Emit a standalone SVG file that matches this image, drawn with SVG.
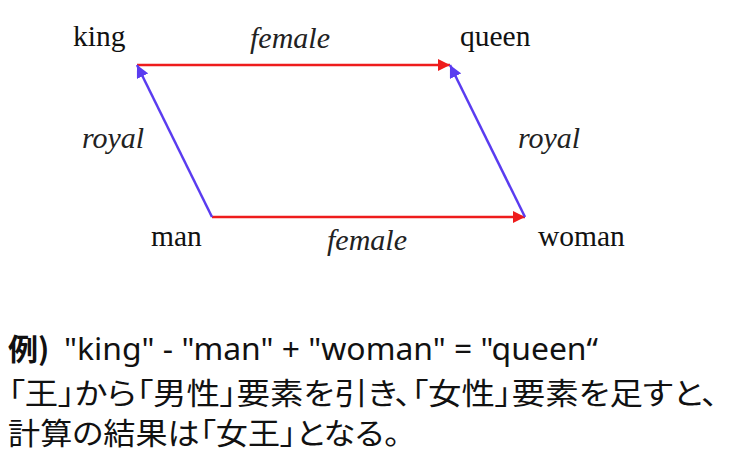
<svg xmlns="http://www.w3.org/2000/svg" width="740" height="458" viewBox="0 0 740 458">
<style>
.w{font-family:"Liberation Serif","Times New Roman",serif;font-size:29.5px;fill:#111}
.l{font-family:"Liberation Serif","Times New Roman",serif;font-size:30px;font-style:italic;fill:#222}
.r{stroke:#ee1c1c;stroke-width:2.5;fill:none}
.b{stroke:#5a3cf0;stroke-width:2.5;fill:none}
.j{font-family:"Noto Sans CJK JP","Noto Sans",sans-serif;font-size:30px;fill:#111;font-feature-settings:"palt"}
.e{font-family:"Noto Sans","Noto Sans CJK JP",sans-serif;font-size:30px;fill:#111}
</style>
<defs>
<marker id="ar" viewBox="0 0 10 10" refX="10" refY="5" markerWidth="5" markerHeight="5" orient="auto" markerUnits="strokeWidth"><path d="M0,0L10,5L0,10z" fill="#ee1c1c"/></marker>
<marker id="ab" viewBox="0 0 10 10" refX="10" refY="5" markerWidth="5" markerHeight="5" orient="auto" markerUnits="strokeWidth"><path d="M0,0L10,5L0,10z" fill="#5a3cf0"/></marker>
</defs>
<rect width="740" height="458" fill="#fff"/>
<g id="connectors">
<line class="r" x1="137" y1="65" x2="450" y2="65" marker-end="url(#ar)"/>
<line class="r" x1="212" y1="217" x2="525" y2="217" marker-end="url(#ar)"/>
<line class="b" x1="212" y1="217" x2="137" y2="65" marker-end="url(#ab)"/>
<line class="b" x1="525" y1="217" x2="450" y2="65" marker-end="url(#ab)"/>
<text class="l" x="290" y="48" text-anchor="middle">female</text>
<text class="l" x="367" y="250" text-anchor="middle">female</text>
<text class="l" x="113" y="148" text-anchor="middle">royal</text>
<text class="l" x="549" y="148" text-anchor="middle">royal</text>
</g>
<g id="king"><text class="w" x="73" y="46">king</text></g>
<g id="queen"><text class="w" x="460" y="46">queen</text></g>
<g id="man"><text class="w" x="151" y="246">man</text></g>
<g id="woman"><text class="w" x="538" y="246">woman</text></g>
<g id="caption">
<text class="j" x="8" y="360" font-weight="bold">例)</text>
<text class="e" x="64" y="360" textLength="534" lengthAdjust="spacingAndGlyphs">"king" - "man" + "woman" = "queen“</text>
<text class="j" x="8" y="404" textLength="710" lengthAdjust="spacingAndGlyphs">「王」から「男性」要素を引き、「女性」要素を足すと、</text>
<text class="j" x="8" y="444" textLength="392" lengthAdjust="spacingAndGlyphs">計算の結果は「女王」となる。</text>
</g>
</svg>
